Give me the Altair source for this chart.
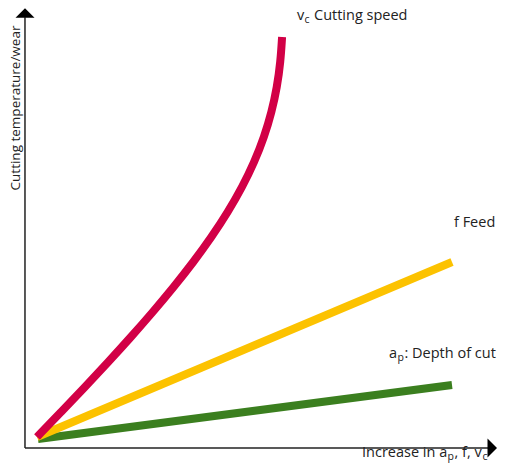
import altair as alt
import pandas as pd

# --- curve data (arbitrary units) ---
red_x = [5.86, 10.73, 15.56, 20.26, 24.85, 29.27, 33.49, 37.47, 41.13, 44.44,
         47.33, 49.78, 51.76, 53.27, 54.36, 55.05, 55.37]
red_y = [6.54, 11.98, 17.43, 22.88, 28.32, 33.77, 39.22, 44.66, 50.11, 55.56,
         61.00, 66.45, 71.90, 77.34, 82.79, 88.24, 93.68]
yellow_x = [5.86, 89.70]
yellow_y = [6.54, 44.66]
green_x = [6.06, 89.70]
green_y = [6.10, 17.86]

# --- axes (origin, arrow ends) ---
axis_origin = (3.43, 4.14)
x_axis_end = 97.0
y_axis_end = 98.0
x_arrow = (97.83, 4.14)
y_arrow = (3.43, 98.91)

# --- labels: pieces (text, x, y, size) ---
label_text = ["v", "c", "Cutting speed", "f Feed", "a", "p", ": Depth of cut",
              "Increase in a", "p", ", f, v", "c"]
label_x = [58.38, 59.90, 61.82, 90.10, 76.97, 78.69, 80.10, 71.52, 88.79, 90.20, 95.86]
label_y = [97.28, 96.73, 97.28, 52.29, 23.75, 23.09, 23.75, 2.07, 1.42, 2.07, 1.42]
label_size = [14.5, 10.5, 14.5, 14.5, 14.5, 10.5, 14.5, 14.5, 10.5, 14.5, 10.5]

y_title = "Cutting temperature/wear"
y_title_pos = (2.42, 78.21)

FONT = "Open Sans"
TXT = "#222222"

xs = alt.Scale(domain=[0, 98.79], nice=False, zero=False)
ys = alt.Scale(domain=[0.87, 100], nice=False, zero=False)


def line_layer(xv, yv, color, interp="linear"):
    df = pd.DataFrame({"x": xv, "y": yv, "i": list(range(len(xv)))})
    return alt.Chart(df).mark_line(color=color, strokeWidth=8, interpolate=interp,
                                   strokeCap="butt").encode(
        x=alt.X("x:Q", scale=xs, axis=None),
        y=alt.Y("y:Q", scale=ys, axis=None),
        order="i:Q",
    )


green = line_layer(green_x, green_y, "#3B7F1F")
yellow = line_layer(yellow_x, yellow_y, "#FCC200")
red = line_layer(red_x, red_y, "#D20046", "basis")

axes_df = pd.DataFrame({
    "x": [axis_origin[0], axis_origin[0]],
    "y": [axis_origin[1], axis_origin[1]],
    "x2": [x_axis_end, axis_origin[0]],
    "y2": [axis_origin[1], y_axis_end],
})
axes = alt.Chart(axes_df).mark_rule(color="#222222", strokeWidth=1.5).encode(
    x=alt.X("x:Q", scale=xs, axis=None), y=alt.Y("y:Q", scale=ys, axis=None),
    x2="x2:Q", y2="y2:Q",
)

arr_r = alt.Chart(pd.DataFrame({"x": [x_arrow[0]], "y": [x_arrow[1]]})).mark_point(
    shape="M-0.5,-1L0.5,0L-0.5,1Z", size=361, filled=True, color="#000000", opacity=1
).encode(x=alt.X("x:Q", scale=xs, axis=None), y=alt.Y("y:Q", scale=ys, axis=None))

arr_u = alt.Chart(pd.DataFrame({"x": [y_arrow[0]], "y": [y_arrow[1]]})).mark_point(
    shape="M-1,0.5L0,-0.5L1,0.5Z", size=361, filled=True, color="#000000", opacity=1
).encode(x=alt.X("x:Q", scale=xs, axis=None), y=alt.Y("y:Q", scale=ys, axis=None))

lab_df = pd.DataFrame({"t": label_text, "x": label_x, "y": label_y, "s": label_size})
labels = alt.Chart(lab_df).mark_text(
    align="left", baseline="alphabetic", font=FONT, color=TXT
).encode(
    x=alt.X("x:Q", scale=xs, axis=None), y=alt.Y("y:Q", scale=ys, axis=None),
    text="t:N", size=alt.Size("s:Q", scale=None, legend=None),
)

ytitle = alt.Chart(pd.DataFrame({"t": [y_title], "x": [y_title_pos[0]], "y": [y_title_pos[1]]})).mark_text(
    align="center", baseline="alphabetic", angle=270, font=FONT, fontSize=13.5, color=TXT
).encode(
    x=alt.X("x:Q", scale=xs, axis=None), y=alt.Y("y:Q", scale=ys, axis=None), text="t:N"
)

chart = alt.layer(axes, arr_r, arr_u, green, yellow, red, labels, ytitle).properties(
    width=489, height=455, padding=0, autosize="none"
).configure_view(stroke=None)

chart.save("out.html", embed_options={"renderer": "svg", "actions": False})
